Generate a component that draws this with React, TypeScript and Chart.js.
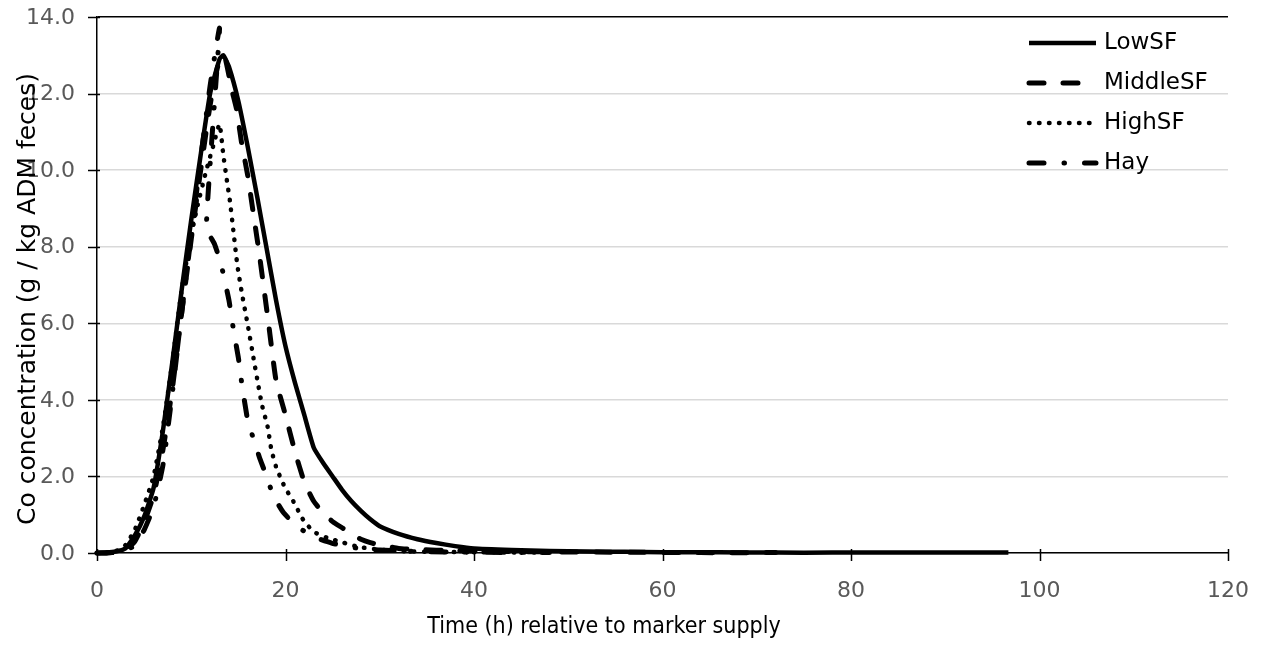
import React, { useEffect, useRef } from "react";
import { Chart, registerables } from "chart.js";

Chart.register(...registerables);

const FONT = '"DejaVu Sans", Verdana, sans-serif';
const FONT_C = '"DejaVu Sans Condensed", "DejaVu Sans", sans-serif';

const seriesNames = ["LowSF", "MiddleSF", "HighSF", "Hay"];
const xTickValues = [0, 20, 40, 60, 80, 100, 120];
const yTickValues = [0, 2, 4, 6, 8, 10, 12, 14];
const xTickLabels = ["0", "20", "40", "60", "80", "100", "120"];
const yTickLabels = ["0.0", "2.0", "4.0", "6.0", "8.0", "10.0", "12.0", "14.0"];
const xTitle = "Time (h) relative to marker supply";
const yTitle = "Co concentration (g / kg ADM feces)";

const lowX = [0, 1, 2, 3, 4, 5, 6, 7, 8, 9, 10, 11, 12, 13, 13.4, 14, 15, 16, 17, 18, 19, 20, 21, 22, 23, 24, 25, 26, 27, 28, 29, 30, 32, 34, 36, 38, 40, 44, 48, 52, 56, 60, 66, 72, 78, 84, 90, 96.7];
const lowY = [0, 0.01, 0.04, 0.12, 0.45, 0.95, 1.7, 3.2, 5.0, 6.9, 8.7, 10.4, 12.0, 12.9, 13.0, 12.7, 11.8, 10.6, 9.3, 7.95, 6.6, 5.4, 4.45, 3.6, 2.75, 2.35, 2.0, 1.65, 1.35, 1.1, 0.88, 0.7, 0.5, 0.36, 0.26, 0.18, 0.12, 0.08, 0.05, 0.04, 0.03, 0.02, 0.02, 0.01, 0.01, 0.01, 0.01, 0.01];

const midX = [0, 1, 2, 3, 4, 5, 6, 7, 8, 9, 10, 11, 12, 12.8, 13.5, 14.3, 14.8, 15.35, 16, 16.6, 17.2, 18.2, 19, 20, 21, 22, 23, 24, 25, 26, 27, 28, 29, 30, 32, 34, 38, 42, 48, 56, 64, 72];
const midY = [0, 0, 0.02, 0.08, 0.3, 0.8, 1.5, 2.7, 4.3, 6.3, 8.2, 10.0, 11.7, 12.7, 13.0, 12.1, 11.6, 10.7, 9.85, 8.85, 7.85, 6.0, 4.5, 3.6, 2.65, 1.85, 1.35, 1.05, 0.82, 0.66, 0.5, 0.36, 0.27, 0.21, 0.12, 0.09, 0.06, 0.04, 0.03, 0.02, 0.01, 0.01];

const highX = [0, 1, 2, 3, 4, 5, 6, 7, 8, 9, 10, 10.6, 11.6, 12.35, 13, 13.4, 13.8, 14.1, 14.5, 14.9, 15.4, 16, 16.6, 17.1, 17.5, 18.1, 18.5, 19, 19.5, 20, 20.65, 21.2, 21.7, 22.4, 23, 24.4, 26, 27.7, 29.8, 32, 36, 40, 48];
const highY = [0, 0.01, 0.05, 0.2, 0.6, 1.25, 2.0, 3.3, 5.0, 6.9, 8.3, 9.0, 10.0, 10.65, 11.2, 10.4, 9.7, 9.2, 8.35, 7.5, 6.75, 5.95, 5.1, 4.4, 3.87, 3.3, 2.7, 2.25, 1.95, 1.68, 1.43, 1.18, 0.93, 0.71, 0.55, 0.4, 0.28, 0.16, 0.09, 0.05, 0.03, 0.02, 0.01];

const hayX = [0, 1, 2, 3, 4, 5, 6, 7, 8, 9, 10, 11, 12, 13, 11.6, 12.5, 13.2, 14, 14.5, 15, 15.35, 16, 16.65, 17.3, 18, 18.7, 19.8, 21.2, 22.9, 24.9, 26.6, 28, 30, 34, 40, 48];
const hayY = [0, 0, 0.02, 0.06, 0.2, 0.6, 1.2, 2.3, 4.2, 6.3, 8.3, 10.3, 12.2, 13.7, 8.5, 8.05, 7.5, 6.6, 5.8, 5.1, 4.45, 3.45, 2.95, 2.45, 2.0, 1.5, 1.05, 0.7, 0.43, 0.26, 0.16, 0.12, 0.08, 0.04, 0.02, 0.01];

const seriesX = [lowX, midX, highX, hayX];
const seriesY = [lowY, midY, highY, hayY];
const seriesWidth = [4.5, 5, 4.5, 5];
const seriesDash: number[][] = [[], [15, 19], [0.5, 9.5], [15, 20, 0.5, 20]];

const decorPlugin = {
  id: "decor",
  afterDraw(chart: any) {
    const ctx = chart.ctx;
    const xs = chart.scales.x;
    const ys = chart.scales.y;
    const area = chart.chartArea;
    ctx.save();
    ctx.strokeStyle = "#000";
    ctx.lineWidth = 1.5;
    ctx.setLineDash([]);
    ctx.beginPath();
    xTickValues.forEach((v) => {
      const px = Math.round(xs.getPixelForValue(v)) + 0.5;
      ctx.moveTo(px, area.bottom - 4);
      ctx.lineTo(px, area.bottom + 8);
    });
    yTickValues.forEach((v) => {
      const py = Math.round(ys.getPixelForValue(v)) + 0.5;
      ctx.moveTo(area.left - 9, py);
      ctx.lineTo(area.left + 3, py);
    });
    ctx.stroke();

    // tick labels
    ctx.fillStyle = "#595959";
    ctx.font = `22px ${FONT}`;
    ctx.textBaseline = "middle";
    ctx.textAlign = "center";
    xTickValues.forEach((v, i) => {
      ctx.fillText(xTickLabels[i], xs.getPixelForValue(v), area.bottom + 38);
    });
    ctx.textAlign = "right";
    yTickValues.forEach((v, i) => {
      ctx.fillText(yTickLabels[i], area.left - 22, ys.getPixelForValue(v) + 1);
    });

    // axis titles
    ctx.fillStyle = "#000";
    ctx.textAlign = "center";
    ctx.textBaseline = "middle";
    ctx.font = `23px ${FONT_C}`;
    ctx.fillText(xTitle, 604, 627);
    ctx.save();
    ctx.translate(28, 299);
    ctx.rotate(-Math.PI / 2);
    ctx.font = `25px ${FONT}`;
    ctx.fillText(yTitle, 0, 0);
    ctx.restore();

    // legend
    ctx.font = `23px ${FONT}`;
    ctx.textAlign = "left";
    ctx.textBaseline = "middle";
    seriesNames.forEach((name, i) => {
      const y = 43 + 40 * i;
      ctx.beginPath();
      ctx.lineWidth = seriesWidth[i];
      ctx.lineCap = i === 0 ? "butt" : "round";
      ctx.setLineDash(seriesDash[i]);
      ctx.moveTo(1029, y);
      ctx.lineTo(1096, y);
      ctx.stroke();
      ctx.setLineDash([]);
      ctx.fillText(name, 1104, y);
    });
    ctx.restore();
  },
};

export default function App() {
  const ref = useRef<HTMLCanvasElement | null>(null);
  useEffect(() => {
    if (!ref.current) return;
    const datasets = seriesNames.map((name, i) => ({
      label: name,
      data: seriesX[i].map((x, j) => ({ x, y: seriesY[i][j] })),
      showLine: true,
      borderColor: "#000",
      backgroundColor: "#000",
      borderWidth: seriesWidth[i],
      borderDash: seriesDash[i],
      borderCapStyle: i === 0 ? "butt" : "round",
      borderJoinStyle: "round",
      pointRadius: 0,
      pointHoverRadius: 0,
      tension: 0.15,
      fill: false,
      clip: false,
    }));
    const chart = new Chart(ref.current, {
      type: "scatter",
      data: { datasets: datasets as any },
      plugins: [decorPlugin],
      options: {
        animation: false,
        responsive: false,
        layout: { padding: { top: 17, right: 40, bottom: 0, left: 0 } },
        plugins: { legend: { display: false }, tooltip: { enabled: false } },
        scales: {
          x: {
            type: "linear",
            min: 0,
            max: 120,
            afterFit: (s: any) => { s.height = 95; },
            afterBuildTicks: (s: any) => { s.ticks = xTickValues.map((v) => ({ value: v })); },
            ticks: { display: false },
            grid: { display: false, drawTicks: false },
            border: { display: true, color: "#000", width: 1.5 },
          },
          y: {
            type: "linear",
            min: 0,
            max: 14,
            afterFit: (s: any) => { s.width = 97; },
            afterBuildTicks: (s: any) => { s.ticks = yTickValues.map((v) => ({ value: v })); },
            ticks: { display: false },
            grid: {
              drawTicks: false,
              color: (c: any) => (c.tick && c.tick.value === 14 ? "#000" : "#d9d9d9"),
              lineWidth: 1.5,
            },
            border: { display: true, color: "#000", width: 1.5 },
          },
        },
      },
    });
    return () => chart.destroy();
  }, []);
  return (
    <div style={{ position: "fixed", left: 0, top: 0, width: 1268, height: 648, background: "#fff" }}>
      <canvas ref={ref} width={1268} height={648} style={{ display: "block" }} />
    </div>
  );
}
